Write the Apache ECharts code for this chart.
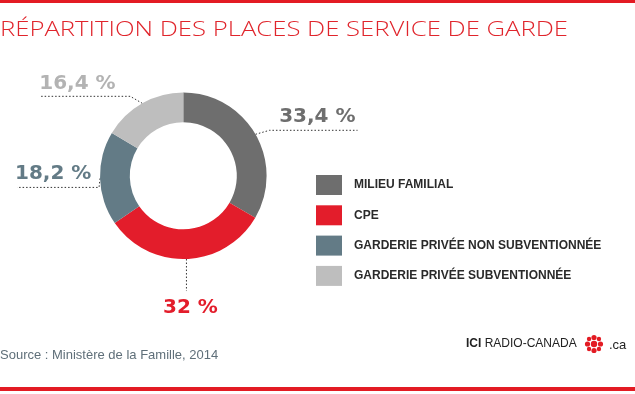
<!DOCTYPE html>
<html><head><meta charset="utf-8">
<script src="https://cdn.jsdelivr.net/npm/echarts@6/dist/echarts.min.js"></script>
<style>html,body{margin:0;padding:0;background:#fff}#c{width:635px;height:394px}</style>
</head><body><div id="c"></div>
<script>
const categories = ['MILIEU FAMILIAL', 'CPE', 'GARDERIE PRIVÉE NON SUBVENTIONNÉE', 'GARDERIE PRIVÉE SUBVENTIONNÉE'];
const values = [33.4, 32, 18.2, 16.4];
const valueLabels = ['33,4 %', '32 %', '18,2 %', '16,4 %'];
const titleText = 'RÉPARTITION DES PLACES DE SERVICE DE GARDE';
const sourceText = 'Source : Ministère de la Famille, 2014';

const colors = ['#6e6e6e', '#e31d2b', '#637b86', '#bebebe'];
const labelColors = ['#6e6e6e', '#e31d2b', '#637b86', '#b3b3b3'];
// leader-line shape per slice (style only)
const leader = [
  {bend: [14, -4], run: 88, align: 'right', tx: -2, ty: -14},
  {bend: [0, 32], run: 0, align: 'center', tx: 4, ty: 17},
  {bend: [-1, 9], run: -82, align: 'left', tx: -2, ty: -14},
  {bend: [-12, -7], run: -90, align: 'left', tx: -1, ty: -13}
];

const titleFont = '300 20px "Open Sans", sans-serif';
const titleWidth = 568;
const mctx = document.createElement('canvas').getContext('2d');
mctx.font = titleFont;
const titleScale = titleWidth / mctx.measureText(titleText).width;

const chart = echarts.init(document.getElementById('c'), null, {renderer: 'canvas'});
const red = '#e31b23';

const gem = [];
gem.push({type: 'circle', shape: {cx: 0, cy: 0, r: 3.2}, style: {fill: red}});
for (let k = 0; k < 4; k++) {
  const a = k * Math.PI / 2;
  gem.push({type: 'circle', shape: {cx: 6.5 * Math.sin(a), cy: -6.5 * Math.cos(a), r: 2.6}, style: {fill: red}});
}
for (let k = 0; k < 4; k++) {
  const a = Math.PI / 4 + k * Math.PI / 2;
  gem.push({type: 'circle', shape: {cx: 7 * Math.sin(a), cy: -7 * Math.cos(a), r: 2.2}, style: {fill: red}});
}

chart.setOption({
  animation: false,
  backgroundColor: '#fff',
  legend: {
    orient: 'vertical',
    left: 316,
    top: 175,
    padding: 0,
    itemWidth: 26,
    itemHeight: 20,
    itemGap: 10.3,
    icon: 'rect',
    selectedMode: false,
    data: categories,
    textStyle: {
      fontFamily: 'Liberation Sans, Arial, sans-serif',
      fontWeight: 'bold',
      fontSize: 12,
      color: '#2a2a2a',
      padding: [0, 0, 0, 7]
    }
  },
  series: [{
    type: 'pie',
    center: [183.3, 175.8],
    radius: [53.5, 83.3],
    startAngle: 90,
    clockwise: true,
    avoidLabelOverlap: false,
    emphasis: {disabled: true},
    itemStyle: {borderWidth: 0},
    label: {
      show: true,
      position: 'outside',
      formatter: p => valueLabels[p.dataIndex],
      fontFamily: 'DejaVu Sans, sans-serif',
      fontWeight: 'bold',
      fontSize: 20
    },
    labelLine: {
      show: true,
      length: 10,
      length2: 10,
      lineStyle: {type: [1.5, 2], color: '#333', width: 1}
    },
    labelLayout: function (params) {
      const L = leader[params.dataIndex];
      const p0 = params.labelLinePoints[0];
      const p1 = [p0[0] + L.bend[0], p0[1] + L.bend[1]];
      const p2 = [p1[0] + L.run, p1[1]];
      return {
        x: p2[0] + L.tx,
        y: p2[1] + L.ty,
        align: L.align,
        verticalAlign: 'middle',
        labelLinePoints: [p0, p1, p2]
      };
    },
    data: categories.map((c, i) => ({
      name: c,
      value: values[i],
      itemStyle: {color: colors[i]},
      label: {color: labelColors[i]}
    }))
  }],
  graphic: [
    {type: 'rect', shape: {x: 0, y: 0, width: 635, height: 3}, style: {fill: red}},
    {type: 'rect', shape: {x: 0, y: 387, width: 635, height: 4}, style: {fill: red}},
    {type: 'text', x: 0, y: 30, scaleX: titleScale, style: {
      text: titleText, fill: '#e0252c',
      font: titleFont, textVerticalAlign: 'middle'}},
    {type: 'text', x: 0, y: 355, style: {
      text: sourceText, fill: '#5f6f79',
      font: '13px "Liberation Sans", Arial, sans-serif', textVerticalAlign: 'middle'}},
    {type: 'text', x: 466, y: 344, style: {
      text: '{a|ICI} {b|RADIO-CANADA}', textVerticalAlign: 'middle',
      rich: {
        a: {font: 'bold 12px "Liberation Sans", Arial, sans-serif', fill: '#222'},
        b: {font: '12px "Liberation Sans", Arial, sans-serif', fill: '#222'}
      }}},
    {type: 'group', x: 594, y: 344, children: gem},
    {type: 'text', x: 609, y: 345, style: {
      text: '.ca', fill: '#222',
      font: '13px "Liberation Sans", Arial, sans-serif', textVerticalAlign: 'middle'}}
  ]
});
</script>
</body></html>
